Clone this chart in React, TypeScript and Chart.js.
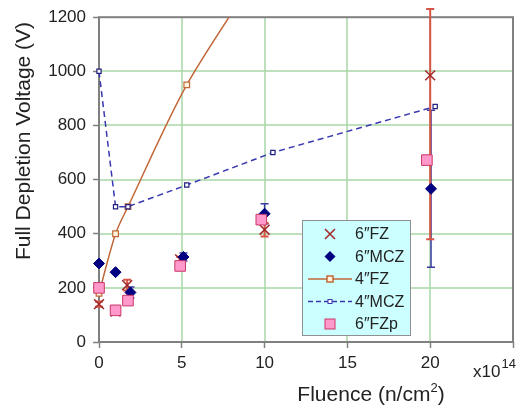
import React, { useEffect, useRef } from "react";
import { Chart, registerables } from "chart.js";
Chart.register(...registerables);

// ---- data ----
const seriesNames = ["6″FZ", "6″MCZ", "4″FZ", "4″MCZ", "6″FZp"];

const fz6X = [0, 1, 1.7, 4.9, 10, 20];
const fz6Y = [140, 113, 210, 305, 415, 985];
const fz6ErrLo = [10, 10, 20, 10, 25, 605];
const fz6ErrHi = [10, 10, 20, 10, 25, 245];

const mcz6X = [0, 1, 1.9, 5.1, 10, 20.05];
const mcz6Y = [290, 258, 183, 314, 474, 566];
const mcz6Err = [0, 0, 20, 15, 37, 290];

const fz4X = [0, 1, 1.75, 5.3, 10];
const fz4Y = [180, 400, 500, 950, 1400];

const mcz4X = [0, 1, 1.75, 5.3, 10.5, 20.3];
const mcz4Y = [1000, 500, 500, 580, 700, 870];

const fzp6X = [0, 1, 1.75, 4.9, 9.8, 19.8];
const fzp6Y = [200, 117, 153, 281, 452, 672];

const xMin = 0;
const xMax = 25;
const xStep = 5;
const yMin = 0;
const yMax = 1200;
const yStep = 200;

const xTitle = "Fluence (n/cm";
const xTitleSup = "2";
const xTitleEnd = ")";
const yTitle = "Full Depletion Voltage (V)";
const xExpBase = "x10";
const xExpPow = "14";

const FONT = "'Liberation Sans', Arial, sans-serif";

const pts = (xs: number[], ys: number[]) => xs.map((x, i) => ({ x, y: ys[i] }));

const COLORS = {
  fz6: "#a02828",
  fz6Err: "#d85545",
  mcz6: "#000080",
  mcz6Err: "#3a3aa0",
  fz4: "#c06838",
  fz4Fill: "#fff2dc",
  mcz4: "#3838b0",
  fzpFill: "#ff99cc",
  fzpBorder: "#c83868",
  grid: "#a8d8a8",
  frame: "#808080",
  text: "#222222",
};

const errorBarPlugin = {
  id: "errorBars",
  beforeDatasetsDraw(chart: any) {
    const ctx = chart.ctx;
    const xs = chart.scales.x;
    const ys = chart.scales.y;
    const ca = chart.chartArea;
    ctx.save();
    // grid lines
    ctx.strokeStyle = COLORS.grid;
    ctx.lineWidth = 1.5;
    ctx.beginPath();
    for (let v = xMin + xStep; v < xMax; v += xStep) {
      const px = Math.round(xs.getPixelForValue(v));
      ctx.moveTo(px, ca.top);
      ctx.lineTo(px, ca.bottom);
    }
    for (let v = yMin + yStep; v < yMax; v += yStep) {
      const py = Math.round(ys.getPixelForValue(v));
      ctx.moveTo(ca.left, py);
      ctx.lineTo(ca.right, py);
    }
    ctx.stroke();
    // frame
    ctx.strokeStyle = COLORS.frame;
    ctx.lineWidth = 2;
    ctx.strokeRect(ca.left, ca.top, ca.right - ca.left, ca.bottom - ca.top);

    const drawBar = (x: number, lo: number, hi: number, color: string, w: number) => {
      const px = xs.getPixelForValue(x);
      const p1 = ys.getPixelForValue(lo);
      const p2 = ys.getPixelForValue(hi);
      ctx.strokeStyle = color;
      ctx.lineWidth = w;
      ctx.beginPath();
      ctx.moveTo(px, p1);
      ctx.lineTo(px, p2);
      ctx.moveTo(px - 4, p1);
      ctx.lineTo(px + 4, p1);
      ctx.moveTo(px - 4, p2);
      ctx.lineTo(px + 4, p2);
      ctx.stroke();
    };
    mcz6X.forEach((x, i) => {
      if (mcz6Err[i] > 0) drawBar(x, mcz6Y[i] - mcz6Err[i], mcz6Y[i] + mcz6Err[i], COLORS.mcz6Err, 1.5);
    });
    fz6X.forEach((x, i) => {
      if (fz6ErrLo[i] > 0 || fz6ErrHi[i] > 0)
        drawBar(x, fz6Y[i] - fz6ErrLo[i], fz6Y[i] + fz6ErrHi[i], COLORS.fz6Err, 2);
    });
    ctx.restore();
  },
  afterDraw(chart: any) {
    const ctx = chart.ctx;
    ctx.save();
    ctx.fillStyle = COLORS.text;
    // x title
    ctx.font = `21px ${FONT}`;
    ctx.textBaseline = "alphabetic";
    ctx.textAlign = "left";
    const w1 = ctx.measureText(xTitle).width;
    ctx.font = `13px ${FONT}`;
    const w2 = ctx.measureText(xTitleSup).width;
    ctx.font = `21px ${FONT}`;
    const w3 = ctx.measureText(xTitleEnd).width;
    const total = w1 + w2 + w3;
    const cx = 371;
    const tx = cx - total / 2;
    const base = 401;
    ctx.fillText(xTitle, tx, base);
    ctx.font = `13px ${FONT}`;
    ctx.fillText(xTitleSup, tx + w1, base - 9);
    ctx.font = `21px ${FONT}`;
    ctx.fillText(xTitleEnd, tx + w1 + w2, base);

    // y title
    ctx.save();
    ctx.translate(30, 141);
    ctx.rotate(-Math.PI / 2);
    ctx.textAlign = "center";
    ctx.font = `21px ${FONT}`;
    ctx.fillText(yTitle, 0, 0);
    ctx.restore();

    // exponent label
    ctx.textAlign = "left";
    ctx.font = `17px ${FONT}`;
    ctx.fillText(xExpBase, 473, 377);
    const we = ctx.measureText(xExpBase).width;
    ctx.font = `13px ${FONT}`;
    ctx.fillText(xExpPow, 473 + we + 1, 368);

    // legend
    const lx = 302, ly = 220, lw = 108, lh = 115;
    ctx.fillStyle = "#ccffff";
    ctx.fillRect(lx, ly, lw, lh);
    ctx.strokeStyle = "#909090";
    ctx.lineWidth = 1;
    ctx.strokeRect(lx + 0.5, ly + 0.5, lw, lh);
    const rows = [234, 256.5, 279, 301.5, 324];
    const mx = 330;
    rows.forEach((ry, i) => {
      ctx.save();
      if (i === 0) {
        ctx.strokeStyle = COLORS.fz6;
        ctx.lineWidth = 1.5;
        ctx.beginPath();
        ctx.moveTo(mx - 5, ry - 5);
        ctx.lineTo(mx + 5, ry + 5);
        ctx.moveTo(mx + 5, ry - 5);
        ctx.lineTo(mx - 5, ry + 5);
        ctx.stroke();
      } else if (i === 1) {
        ctx.fillStyle = COLORS.mcz6;
        ctx.beginPath();
        ctx.moveTo(mx, ry - 5.5);
        ctx.lineTo(mx + 5.5, ry);
        ctx.lineTo(mx, ry + 5.5);
        ctx.lineTo(mx - 5.5, ry);
        ctx.closePath();
        ctx.fill();
      } else if (i === 2) {
        ctx.strokeStyle = COLORS.fz4;
        ctx.lineWidth = 1.5;
        ctx.beginPath();
        ctx.moveTo(308, ry);
        ctx.lineTo(352, ry);
        ctx.stroke();
        ctx.fillStyle = COLORS.fz4Fill;
        ctx.fillRect(mx - 3, ry - 3, 6, 6);
        ctx.strokeRect(mx - 3, ry - 3, 6, 6);
      } else if (i === 3) {
        ctx.strokeStyle = COLORS.mcz4;
        ctx.lineWidth = 1.5;
        ctx.setLineDash([5, 3]);
        ctx.beginPath();
        ctx.moveTo(308, ry);
        ctx.lineTo(352, ry);
        ctx.stroke();
        ctx.setLineDash([]);
        ctx.fillStyle = "#ffffff";
        ctx.lineWidth = 1;
        ctx.fillRect(mx - 2, ry - 2, 4, 4);
        ctx.strokeRect(mx - 2, ry - 2, 4, 4);
      } else {
        ctx.fillStyle = COLORS.fzpFill;
        ctx.strokeStyle = COLORS.fzpBorder;
        ctx.lineWidth = 1;
        ctx.fillRect(mx - 5, ry - 5, 10, 10);
        ctx.strokeRect(mx - 5, ry - 5, 10, 10);
      }
      ctx.restore();
      ctx.fillStyle = COLORS.text;
      ctx.font = `16px ${FONT}`;
      ctx.textBaseline = "middle";
      ctx.fillText(seriesNames[i], 355, ry + 1);
    });
    ctx.restore();
  },
};

export default function App() {
  const ref = useRef<HTMLCanvasElement | null>(null);
  useEffect(() => {
    if (!ref.current) return;
    const chart = new Chart(ref.current, {
      type: "scatter",
      data: {
        datasets: [
          {
            label: seriesNames[4],
            data: pts(fzp6X, fzp6Y),
            showLine: false,
            pointStyle: "rect",
            pointRadius: 7.5,
            backgroundColor: COLORS.fzpFill,
            borderColor: COLORS.fzpBorder,
            borderWidth: 1,
            clip: false,
            order: 0,
          },
          {
            label: seriesNames[3],
            data: pts(mcz4X, mcz4Y),
            showLine: true,
            borderColor: COLORS.mcz4,
            borderWidth: 1.5,
            borderDash: [6, 4],
            pointStyle: "rect",
            pointRadius: 3,
            pointBackgroundColor: "#ffffff",
            pointBorderColor: "#202080",
            pointBorderWidth: 1.2,
            clip: false,
            order: 1,
          },
          {
            label: seriesNames[2],
            data: pts(fz4X, fz4Y),
            showLine: true,
            tension: 0.3,
            borderColor: COLORS.fz4,
            borderWidth: 1.5,
            pointStyle: "rect",
            pointRadius: 4,
            pointBackgroundColor: COLORS.fz4Fill,
            pointBorderColor: COLORS.fz4,
            pointBorderWidth: 1.2,
            clip: { left: 10, right: 10, top: 0, bottom: 10 },
            order: 2,
          },
          {
            label: seriesNames[1],
            data: pts(mcz6X, mcz6Y),
            showLine: false,
            pointStyle: "rectRot",
            pointRadius: 5.5,
            backgroundColor: COLORS.mcz6,
            borderColor: COLORS.mcz6,
            borderWidth: 1,
            clip: false,
            order: 3,
          },
          {
            label: seriesNames[0],
            data: pts(fz6X, fz6Y),
            showLine: false,
            pointStyle: "crossRot",
            pointRadius: 7,
            borderColor: COLORS.fz6,
            borderWidth: 1.5,
            clip: false,
            order: 4,
          },
        ],
      },
      options: {
        animation: false,
        responsive: false,
        maintainAspectRatio: false,
        layout: { padding: { top: 11, right: 15, left: 0, bottom: 0 } },
        plugins: {
          legend: { display: false },
          tooltip: { enabled: false },
          title: { display: false },
        },
        scales: {
          x: {
            type: "linear",
            min: xMin,
            max: xMax,
            afterFit: (s: any) => {
              s.height = 68;
            },
            ticks: {
              stepSize: xStep,
              color: COLORS.text,
              font: { family: FONT, size: 17 },
              padding: 5,
              maxRotation: 0,
              callback: (v: any) => (Number(v) >= xMax ? "" : String(v)),
            },
            grid: {
              color: "rgba(0,0,0,0)",
              tickColor: COLORS.frame,
              tickLength: 6,
              tickWidth: 1.5,
              drawTicks: true,
            },
            border: { display: false },
          },
          y: {
            type: "linear",
            min: yMin,
            max: yMax,
            afterFit: (s: any) => {
              s.width = 99;
            },
            ticks: {
              stepSize: yStep,
              color: COLORS.text,
              font: { family: FONT, size: 17 },
              padding: 7,
              callback: (v: any) => String(v),
            },
            grid: {
              color: "rgba(0,0,0,0)",
              tickColor: COLORS.frame,
              tickLength: 6,
              tickWidth: 1.5,
              drawTicks: true,
            },
            border: { display: false },
          },
        },
      },
      plugins: [errorBarPlugin],
    } as any);
    return () => chart.destroy();
  }, []);
  return (
    <div style={{ position: "fixed", left: 0, top: 0, width: 528, height: 410, background: "#ffffff" }}>
      <canvas ref={ref} width={528} height={410} style={{ width: 528, height: 410, display: "block" }} />
    </div>
  );
}
